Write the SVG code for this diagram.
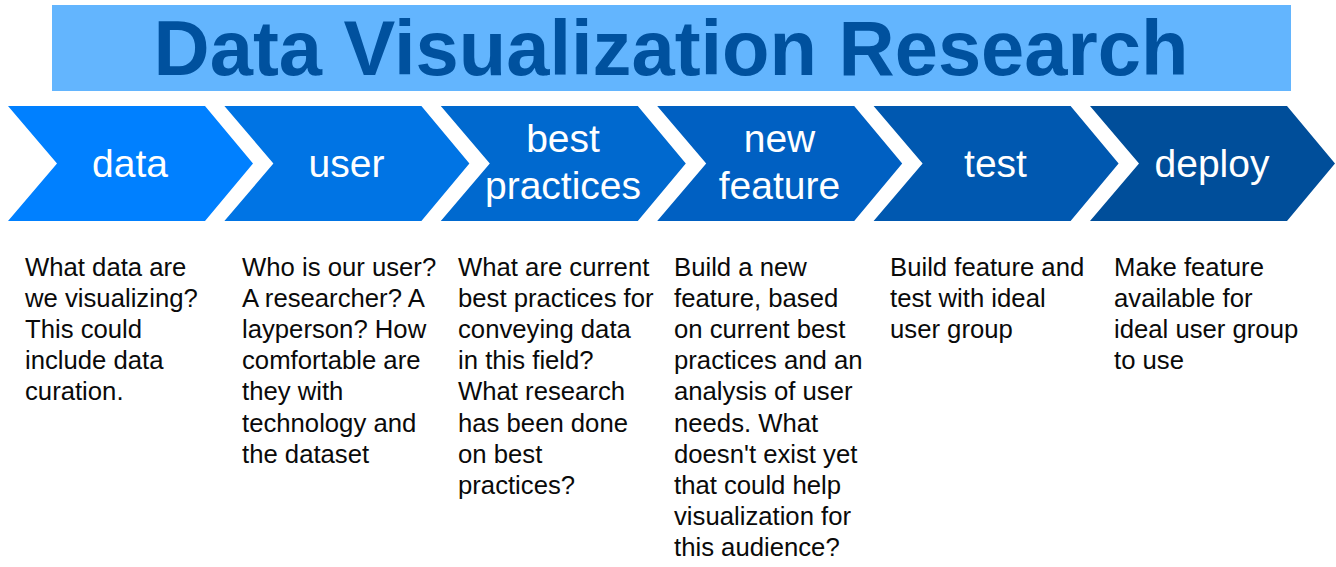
<svg xmlns="http://www.w3.org/2000/svg" width="1336" height="567" viewBox="0 0 1336 567">
<style>
.title{font-family:"Liberation Sans",Arial,sans-serif;font-weight:bold;font-size:77.7px;fill:#00519e}
.lbl{font-family:"Liberation Sans",Arial,sans-serif;font-size:39px;fill:#ffffff;text-anchor:middle}
.desc{font-family:"Liberation Sans",Arial,sans-serif;font-size:25.7px;fill:#0a0a0a}
</style>
<defs>
<path id="chev" d="M0,106 L197,106 L245,163.5 L197,221 L0,221 L49,163.5 Z"/>
</defs>
<rect width="1336" height="567" fill="#ffffff"/>
<g id="title">
<rect x="52" y="5" width="1239" height="86" fill="#63b5fe"/>
<text class="title" x="671" y="75" text-anchor="middle">Data Visualization Research</text>
</g>
<g id="connectors"></g>
<g id="step-data">
<use href="#chev" x="8" fill="#0080ff"/>
<text class="lbl" x="130" y="177">data</text>
<text class="desc" y="276"><tspan x="25">What data are</tspan><tspan x="25" dy="31.1">we visualizing?</tspan><tspan x="25" dy="31.1">This could</tspan><tspan x="25" dy="31.1">include data</tspan><tspan x="25" dy="31.1">curation.</tspan></text>
</g>
<g id="step-user">
<use href="#chev" x="224.4" fill="#0074e4"/>
<text class="lbl" x="346.5" y="177">user</text>
<text class="desc" y="276"><tspan x="242">Who is our user?</tspan><tspan x="242" dy="31.1">A researcher? A</tspan><tspan x="242" dy="31.1">layperson? How</tspan><tspan x="242" dy="31.1">comfortable are</tspan><tspan x="242" dy="31.1">they with</tspan><tspan x="242" dy="31.1">technology and</tspan><tspan x="242" dy="31.1">the dataset</tspan></text>
</g>
<g id="step-best-practices">
<use href="#chev" x="440.8" fill="#0069cf"/>
<text class="lbl" x="563" y="152">best</text>
<text class="lbl" x="563" y="199">practices</text>
<text class="desc" y="276"><tspan x="458">What are current</tspan><tspan x="458" dy="31.1">best practices for</tspan><tspan x="458" dy="31.1">conveying data</tspan><tspan x="458" dy="31.1">in this field?</tspan><tspan x="458" dy="31.1">What research</tspan><tspan x="458" dy="31.1">has been done</tspan><tspan x="458" dy="31.1">on best</tspan><tspan x="458" dy="31.1">practices?</tspan></text>
</g>
<g id="step-new-feature">
<use href="#chev" x="657.2" fill="#0060c2"/>
<text class="lbl" x="779.5" y="152">new</text>
<text class="lbl" x="779.5" y="199">feature</text>
<text class="desc" y="276"><tspan x="674">Build a new</tspan><tspan x="674" dy="31.1">feature, based</tspan><tspan x="674" dy="31.1">on current best</tspan><tspan x="674" dy="31.1">practices and an</tspan><tspan x="674" dy="31.1">analysis of user</tspan><tspan x="674" dy="31.1">needs. What</tspan><tspan x="674" dy="31.1">doesn't exist yet</tspan><tspan x="674" dy="31.1">that could help</tspan><tspan x="674" dy="31.1">visualization for</tspan><tspan x="674" dy="31.1">this audience?</tspan></text>
</g>
<g id="step-test">
<use href="#chev" x="873.6" fill="#0058b0"/>
<text class="lbl" x="995.5" y="177">test</text>
<text class="desc" y="276"><tspan x="890">Build feature and</tspan><tspan x="890" dy="31.1">test with ideal</tspan><tspan x="890" dy="31.1">user group</tspan></text>
</g>
<g id="step-deploy">
<use href="#chev" x="1090" fill="#004e9a"/>
<text class="lbl" x="1212" y="177">deploy</text>
<text class="desc" y="276"><tspan x="1114">Make feature</tspan><tspan x="1114" dy="31.1">available for</tspan><tspan x="1114" dy="31.1">ideal user group</tspan><tspan x="1114" dy="31.1">to use</tspan></text>
</g>
</svg>
